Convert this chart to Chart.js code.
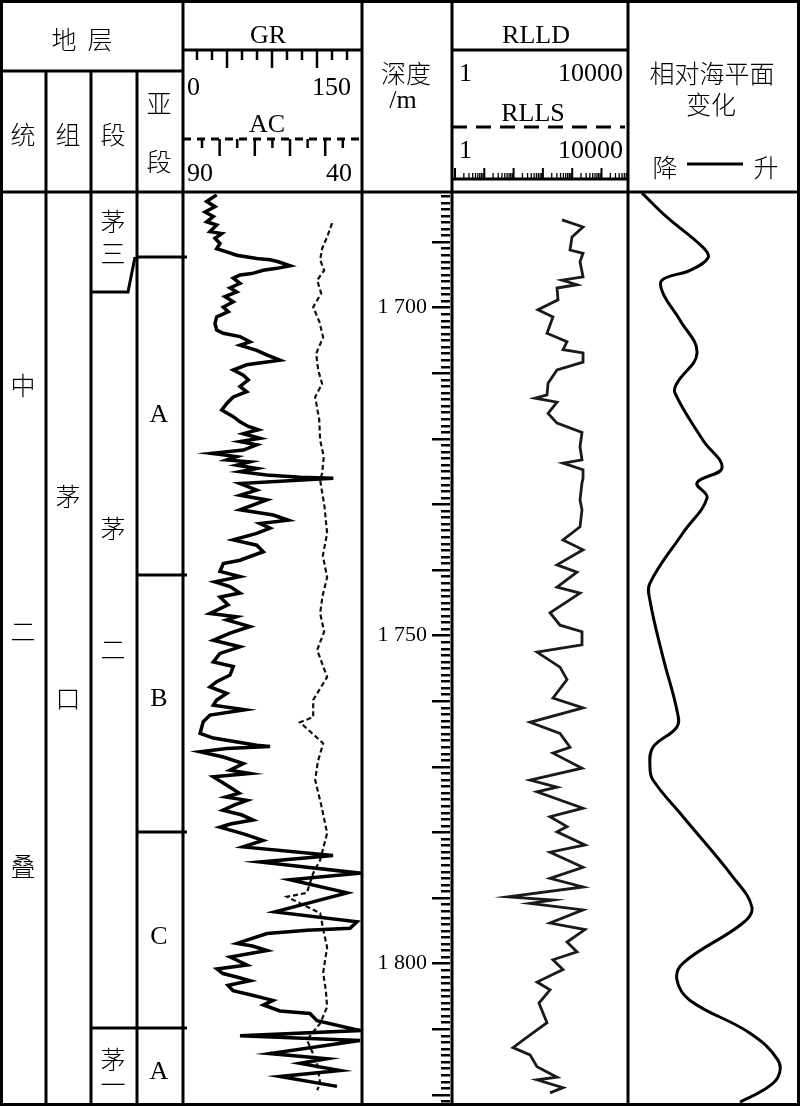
<!DOCTYPE html>
<html>
<head>
<meta charset="utf-8">
<script src="https://cdn.jsdelivr.net/npm/chart.js@4.4.1/dist/chart.umd.min.js"></script>
<style>
  html, body { margin: 0; padding: 0; background: #fff; }
  #wrap { position: relative; width: 800px; height: 1106px; overflow: hidden; background: #fff; }
  canvas { position: absolute; }
  #frame { position: absolute; left: 0; top: 0; }
  .zh { font-family: "Noto Sans CJK SC"; font-size: 25px; font-weight: 300; fill: #000; }
  .en { font-family: "Liberation Serif"; font-size: 26px; fill: #000; }
</style>
</head>
<body>
<div id="wrap">
  <canvas id="grChart" width="179" height="912" style="left:183px;top:192px"></canvas>
  <canvas id="depthChart" width="90" height="952" style="left:362px;top:172px"></canvas>
  <canvas id="rtChart" width="176" height="912" style="left:452px;top:192px"></canvas>
  <canvas id="seaChart" width="170" height="912" style="left:628px;top:192px"></canvas>
  <svg id="frame" width="800" height="1106">
    <g stroke="#000" stroke-width="3" fill="none" id="lines">
      <rect x="1.5" y="1.5" width="797" height="1103"/>
      <line x1="46" y1="71" x2="46" y2="1104"/>
      <line x1="91" y1="71" x2="91" y2="1104"/>
      <line x1="137" y1="71" x2="137" y2="1104"/>
      <line x1="183" y1="0" x2="183" y2="1104"/>
      <line x1="362" y1="0" x2="362" y2="1104"/>
      <line x1="452" y1="0" x2="452" y2="1104"/>
      <line x1="628" y1="0" x2="628" y2="1104"/>
      <line x1="0" y1="71" x2="183" y2="71"/>
      <line x1="183" y1="50" x2="362" y2="50"/>
      <line x1="452" y1="50" x2="628" y2="50"/>
      <line x1="0" y1="192" x2="800" y2="192"/>
      <line x1="137" y1="257" x2="187" y2="257"/>
      <line x1="137" y1="575" x2="187" y2="575"/>
      <line x1="137" y1="832" x2="187" y2="832"/>
      <line x1="91" y1="1028" x2="187" y2="1028"/>
      <polyline points="91,292 128,292 135,257"/>
      <line x1="183" y1="139" x2="362" y2="139" stroke-dasharray="8 6"/>
      <line x1="452" y1="127" x2="625" y2="127" stroke-dasharray="15 9"/>
      <line x1="452" y1="179" x2="628" y2="179"/>
      <line x1="687" y1="164" x2="743" y2="164"/>
    </g>
    <g id="texts">
      <text class="zh" x="64" y="38" text-anchor="middle" dominant-baseline="central">地</text>
      <text class="zh" x="100" y="38" text-anchor="middle" dominant-baseline="central">层</text>
      <text class="zh" x="23" y="133" text-anchor="middle" dominant-baseline="central">统</text>
      <text class="zh" x="68" y="133" text-anchor="middle" dominant-baseline="central">组</text>
      <text class="zh" x="113" y="133" text-anchor="middle" dominant-baseline="central">段</text>
      <text class="zh" x="159" y="102" text-anchor="middle" dominant-baseline="central">亚</text>
      <text class="zh" x="159" y="160" text-anchor="middle" dominant-baseline="central">段</text>
      <text class="en" x="268" y="43" text-anchor="middle">GR</text>
      <text class="en" x="187" y="95">0</text>
      <text class="en" x="351" y="95" text-anchor="end">150</text>
      <text class="en" x="267" y="132" text-anchor="middle">AC</text>
      <text class="en" x="187" y="181">90</text>
      <text class="en" x="352" y="181" text-anchor="end">40</text>
      <text class="zh" x="406" y="72" text-anchor="middle" dominant-baseline="central">深度</text>
      <text class="en" x="403" y="108" text-anchor="middle">/m</text>
      <text class="en" x="536" y="43" text-anchor="middle">RLLD</text>
      <text class="en" x="459" y="81">1</text>
      <text class="en" x="623" y="81" text-anchor="end">10000</text>
      <text class="en" x="533" y="121" text-anchor="middle">RLLS</text>
      <text class="en" x="459" y="158">1</text>
      <text class="en" x="623" y="158" text-anchor="end">10000</text>
      <text class="zh" x="712" y="72" text-anchor="middle" dominant-baseline="central">相对海平面</text>
      <text class="zh" x="711" y="103" text-anchor="middle" dominant-baseline="central">变化</text>
      <text class="zh" x="665" y="166" text-anchor="middle" dominant-baseline="central">降</text>
      <text class="zh" x="766" y="166" text-anchor="middle" dominant-baseline="central">升</text>

      <text class="zh" x="23" y="384" text-anchor="middle" dominant-baseline="central">中</text>
      <text class="zh" x="23" y="630" text-anchor="middle" dominant-baseline="central">二</text>
      <text class="zh" x="23" y="865" text-anchor="middle" dominant-baseline="central">叠</text>
      <text class="zh" x="68" y="495" text-anchor="middle" dominant-baseline="central">茅</text>
      <text class="zh" x="68" y="697" text-anchor="middle" dominant-baseline="central">口</text>
      <text class="zh" x="113" y="220" text-anchor="middle" dominant-baseline="central">茅</text>
      <text class="zh" x="113" y="252" text-anchor="middle" dominant-baseline="central">三</text>
      <text class="zh" x="113" y="527" text-anchor="middle" dominant-baseline="central">茅</text>
      <text class="zh" x="113" y="648" text-anchor="middle" dominant-baseline="central">二</text>
      <text class="zh" x="113" y="1058" text-anchor="middle" dominant-baseline="central">茅</text>
      <text class="zh" x="113" y="1083" text-anchor="middle" dominant-baseline="central">一</text>
      <text class="en" x="159" y="422" text-anchor="middle">A</text>
      <text class="en" x="159" y="706" text-anchor="middle">B</text>
      <text class="en" x="159" y="944" text-anchor="middle">C</text>
      <text class="en" x="159" y="1079" text-anchor="middle">A</text>
    </g>
  </svg>
</div>
<script>
// depth range of the log body (m)
const depthMin = 1682.36;
const depthMax = 1821.39;
const depthLabelStep = 50;

// GR (API)
const grDepth = [1682.8,1683.8,1684.6,1685.4,1686.1,1686.9,1687.4,1688.4,1688.7,1689.4,1690.2,1691.0,1691.5,1692.0,1692.5,1692.7,1693.0,1693.6,1694.0,1694.3,1694.8,1695.0,1695.5,1696.3,1697.0,1697.6,1698.3,1699.1,1699.9,1700.6,1701.4,1702.4,1703.4,1703.9,1704.4,1705.2,1705.7,1706.5,1707.2,1708.0,1708.7,1709.5,1710.3,1711.0,1712.0,1712.8,1713.6,1714.6,1715.6,1716.6,1717.4,1718.1,1718.6,1719.2,1719.9,1720.4,1720.9,1721.7,1722.2,1722.7,1723.2,1723.5,1724.0,1724.5,1725.0,1725.5,1725.85,1726.0,1726.8,1727.8,1728.6,1729.3,1730.8,1731.6,1732.4,1732.9,1733.6,1734.4,1735.4,1736.2,1737.2,1738.5,1739.0,1740.2,1741.0,1741.8,1742.5,1743.5,1744.1,1745.3,1746.6,1747.1,1747.6,1748.6,1749.6,1750.7,1751.7,1752.7,1754.0,1754.7,1756.0,1757.0,1757.8,1758.8,1759.8,1760.6,1761.3,1762.1,1763.1,1764.9,1765.6,1766.7,1766.9,1767.2,1767.7,1768.5,1769.5,1770.5,1771.0,1771.5,1773.1,1774.0,1774.6,1775.1,1775.8,1776.6,1777.3,1778.1,1778.7,1779.2,1780.2,1781.2,1782.2,1783.5,1784.5,1786.2,1787.2,1789.2,1792.1,1793.6,1794.6,1794.9,1795.4,1796.9,1797.3,1798.0,1799.0,1800.2,1800.8,1801.5,1802.0,1802.6,1803.3,1804.1,1804.8,1805.6,1806.3,1807.2,1807.6,1808.7,1810.2,1811.0,1811.7,1813.7,1814.5,1815.2,1816.3,1817.2,1818.7];
const grValue = [27.7,18.7,26.2,17.2,24.7,18.7,27.7,21.7,32.3,26.2,30.7,27.7,36.8,45.8,63.9,75.9,83.4,94.0,82.0,69.8,59.4,48.8,42.7,48.8,39.8,45.8,35.2,42.7,33.7,38.2,27.7,26.2,27.7,33.7,48.8,57.8,48.8,63.9,72.9,84.9,54.8,42.7,51.8,56.3,48.8,54.8,42.7,36.8,32.3,42.7,48.8,56.3,65.3,51.8,66.9,48.8,63.9,51.8,23.2,45.8,36.8,57.8,45.8,63.9,48.8,72.9,103.0,133.1,48.8,63.9,48.8,72.9,48.8,78.9,92.4,66.9,75.9,63.9,42.7,63.9,69.8,48.8,33.7,30.7,48.8,26.2,39.8,48.8,30.7,38.0,21.7,45.8,36.8,57.8,39.8,24.7,48.8,30.7,24.7,42.7,39.8,27.7,21.7,36.8,27.7,24.7,53.3,21.7,15.6,12.7,24.7,63.9,75.9,36.8,12.7,33.7,51.8,39.8,57.8,24.7,39.8,48.0,36.0,55.1,44.0,33.4,50.0,60.5,40.0,30.7,52.0,69.6,51.5,132.8,66.9,157.2,94.0,145.5,80.4,154.5,148.2,109.3,73.2,46.1,60.0,73.2,40.0,55.0,28.0,33.4,45.0,57.8,38.0,42.5,60.0,78.6,70.0,84.9,112.0,118.4,157.2,48.8,157.2,75.9,127.4,103.0,139.2,84.9,136.4];

// AC (us/ft), dashed curve
const acDepth = [1687.1,1689.2,1691.0,1692.7,1694.3,1695.8,1697.8,1699.9,1702.2,1704.5,1707.0,1709.5,1711.6,1713.6,1717.0,1720.2,1722.7,1725.2,1726.3,1730.3,1734.4,1737.8,1741.1,1744.0,1746.6,1749.4,1752.2,1756.3,1759.8,1762.4,1763.2,1766.4,1769.2,1772.0,1776.0,1780.1,1784.2,1786.2,1789.2,1789.8,1792.3,1795.0,1797.5,1801.4,1804.0,1806.6,1809.1,1811.6,1815.0,1818.2,1819.3];
const acValue = [46.0,47.5,49.0,49.6,48.4,50.5,49.3,51.7,49.8,48.7,50.8,50.2,49.0,51.1,49.9,49.6,48.5,49.0,49.6,48.3,47.5,48.8,47.5,48.9,49.6,48.4,50.5,47.5,51.7,51.7,55.7,48.7,50.3,51.1,49.2,47.5,49.6,51.7,53.6,59.6,49.6,48.6,47.5,48.7,47.9,47.5,49.6,53.6,50.6,49.6,50.5];

// RLLD (ohm.m)
const rtDepth = [1686.6,1687.7,1689.2,1691.2,1691.7,1693.0,1695.3,1695.8,1696.5,1697.0,1698.8,1700.3,1701.4,1703.9,1705.2,1706.4,1706.9,1708.3,1709.5,1711.5,1713.3,1713.8,1714.4,1716.1,1717.6,1719.0,1721.2,1723.2,1723.7,1724.7,1726.0,1726.7,1729.3,1730.8,1733.4,1735.4,1736.9,1739.2,1740.3,1742.6,1743.5,1746.5,1748.4,1749.4,1751.4,1752.5,1754.8,1756.7,1759.5,1761.0,1763.2,1764.9,1767.0,1767.9,1770.2,1772.0,1773.1,1773.8,1776.3,1777.6,1779.1,1779.9,1781.9,1783.0,1785.3,1787.0,1788.3,1789.8,1790.3,1790.8,1791.8,1793.8,1794.8,1796.7,1798.2,1799.4,1800.9,1802.8,1804.0,1806.0,1809.0,1811.2,1812.8,1813.9,1815.7,1817.3,1817.7,1818.9,1819.7];
const rtValue = [351,1135,614,549,1135,959,1135,351,811,266,281,92,212,152,464,371,1135,1135,266,161,152,78,266,161,266,1072,959,1072,371,1135,1135,1072,959,1072,959,371,1135,266,811,266,959,180,314,1072,1072,87,314,464,212,1135,59,314,549,212,1072,59,266,87,1135,180,464,266,1268,180,1135,180,1135,17.2,212,59,1135,180,1268,464,811,212,371,87,180,97,152,50,22.8,59,87,266,87,371,180];

// relative sea level (0 = fall, 100 = rise)
const seaDepth = [1682.5,1686.2,1690.8,1692.4,1694.3,1695.8,1697.8,1701.9,1706.9,1711.5,1713.0,1720.2,1724.4,1726.7,1729.0,1734.3,1742.0,1744.6,1753.3,1761.4,1763.9,1767.0,1770.0,1772.0,1777.6,1786.8,1791.4,1793.8,1799.9,1802.5,1805.6,1810.6,1814.7,1817.3,1819.3,1821.1];
const seaValue = [8.2,22.9,44.1,47.1,36.5,20.0,20.6,30.6,40.6,28.8,27.6,44.1,55.3,40.6,46.5,32.4,12.9,12.9,20.6,28.8,28.8,14.7,12.9,14.7,32.4,61.8,72.9,67.6,32.4,28.8,36.5,71.8,88.2,88.2,79.4,65.9];

function pts(ds, vs) { return ds.map((d, i) => ({ x: vs[i], y: d })); }

const depthAxis = { display: false, reverse: true, min: depthMin, max: depthMax };
const base = {
  responsive: false,
  animation: false,
  events: [],
  layout: { padding: 0 },
  plugins: { legend: { display: false }, tooltip: { enabled: false } },
  elements: { point: { radius: 0 } }
};

new Chart(document.getElementById('grChart'), {
  type: 'scatter',
  data: {
    datasets: [
      { label: 'GR', data: pts(grDepth, grValue), showLine: true, borderColor: '#000', borderWidth: 3.5, xAxisID: 'x' },
      { label: 'AC', data: pts(acDepth, acValue), showLine: true, borderColor: '#111', borderWidth: 2.2, borderDash: [5, 3], xAxisID: 'xAC' }
    ]
  },
  options: Object.assign({}, base, {
    scales: {
      x: { display: false, min: -2.7, max: 159 },
      xAC: { axis: 'x', display: false, reverse: true, min: 37.0, max: 90.9 },
      y: depthAxis
    }
  })
});

new Chart(document.getElementById('rtChart'), {
  type: 'scatter',
  data: {
    datasets: [
      { label: 'RLLD', data: pts(rtDepth, rtValue), showLine: true, borderColor: '#1a1a1a', borderWidth: 2.8 }
    ]
  },
  options: Object.assign({}, base, {
    scales: {
      x: { type: 'logarithmic', display: false, min: 0.757, max: 13970 },
      y: depthAxis
    }
  })
});

new Chart(document.getElementById('seaChart'), {
  type: 'scatter',
  data: {
    datasets: [
      { label: '相对海平面变化', data: pts(seaDepth, seaValue), showLine: true, borderColor: '#000', borderWidth: 3, tension: 0.4 }
    ]
  },
  options: Object.assign({}, base, {
    scales: {
      x: { display: false, min: 0, max: 100 },
      y: depthAxis
    }
  })
});

// depth ruler: 1 m ticks, longer every 10 m, labels every 50 m
new Chart(document.getElementById('depthChart'), {
  type: 'scatter',
  data: { datasets: [] },
  options: Object.assign({}, base, {
    layout: { padding: { left: 0, right: 2, top: 20, bottom: 20 } },
    scales: {
      x: { display: false, min: 0, max: 1 },
      y: {
        position: 'left',
        reverse: true,
        min: depthMin,
        max: depthMax,
        afterFit: s => { s.width = 79; },
        border: { display: false },
        grid: {
          color: '#000',
          lineWidth: 2.5,
          tickLength: 9,
          tickColor: c => (c.tick && c.tick.value % 10 === 0) ? '#000' : 'rgba(0,0,0,0)'
        },
        ticks: {
          stepSize: 1,
          autoSkip: false,
          includeBounds: false,
          padding: 5,
          color: '#000',
          font: { family: 'Liberation Serif', size: 22 },
          callback: v => v % depthLabelStep === 0 ? String(v).replace(/^(\d)(\d{3})$/, '$1 $2') : ''
        }
      }
    }
  })
});

// header scale rulers
const NS = 'http://www.w3.org/2000/svg';
const g = document.getElementById('lines');
function seg(x1, y1, x2, y2, w) {
  const l = document.createElementNS(NS, 'line');
  l.setAttribute('x1', x1); l.setAttribute('y1', y1);
  l.setAttribute('x2', x2); l.setAttribute('y2', y2);
  l.setAttribute('stroke-width', w);
  g.appendChild(l);
}
for (let i = 0; i < 11; i++) {
  const x = 197 + i * 15;
  seg(x, 50, x, i % 3 === 2 ? 68 : 60, 2.5);
}
for (let i = 0; i < 9; i++) {
  const x = 202 + i * 17.6;
  seg(x, 139, x, i % 2 === 1 ? 156 : 148, 2.5);
}
for (let d = 0; d < 6; d++) {
  const x0 = 455 + d * 29.3;
  seg(x0, 168, x0, 180, 2);
  for (let k = 2; k < 10; k++) {
    const x = x0 + 29.3 * Math.log10(k);
    if (x < 627) seg(x, 173, x, 180, 1.3);
  }
}
</script>
</body>
</html>
